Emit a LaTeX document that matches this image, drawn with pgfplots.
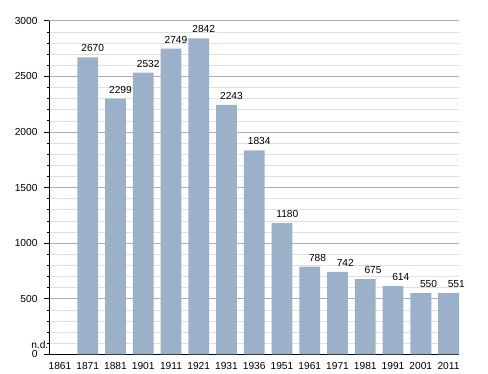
\documentclass[border=0pt]{standalone}
\usepackage{fontspec}
\setmainfont{Liberation Sans}
\usepackage{pgfplots}
\pgfplotsset{compat=1.18}
\definecolor{barblue}{HTML}{9BB0C9}
\begin{document}
\begin{tikzpicture}[x=1pt,y=1pt]
\useasboundingbox (-49.5,-18.7) rectangle (438.5,354.3);
\begin{axis}[
  at={(0,0)}, anchor=south west,
  scale only axis, width=409.5pt, height=333.6pt,
  xmin=-0.378, xmax=14.378, ymin=0, ymax=3000,
  ybar, bar width=0.756,
  axis x line*=bottom, axis y line*=left,
  axis line style={black, line width=0.8pt},
  xtick={0,...,14},
  xticklabels={1861,1871,1881,1901,1911,1921,1931,1936,1951,1961,1971,1981,1991,2001,2011},
  x tick style={draw=none},
  ytick={0,500,...,3000},
  minor ytick={100,200,300,400,600,700,800,900,1100,1200,1300,1400,1600,1700,1800,1900,2100,2200,2300,2400,2600,2700,2800,2900},
  tick align=outside,
  major tick length=5pt, minor tick length=2.5pt,
  y tick style={black, line width=0.6pt},
  ymajorgrids, yminorgrids,
  major grid style={draw=black!32, line width=0.6pt},
  minor grid style={draw=black!12, line width=0.5pt},
  tick label style={font=\fontsize{10.2}{12}\selectfont},
  yticklabel style={xshift=-3.5pt},
  /pgf/number format/assume math mode=true,
  /pgf/number format/set thousands separator={},
  nodes near coords,
  every node near coord/.append style={font=\fontsize{10.2}{12}\selectfont, anchor=south east, inner sep=0pt, xshift=16.5pt, yshift=5.3pt, text=black},
  clip=false,
]
\addplot[fill=barblue, draw=none] coordinates {
  (1,2670) (2,2299) (3,2532) (4,2749) (5,2842) (6,2243) (7,1834)
  (8,1180) (9,788) (10,742) (11,675) (12,614) (13,550) (14,551)
};
\node[anchor=base east, inner sep=0pt, font=\fontsize{10.2}{12}\selectfont] at (rel axis cs:0,0) [xshift=-1pt, yshift=6.3pt] {n.d.};
\end{axis}
\end{tikzpicture}
\end{document}
